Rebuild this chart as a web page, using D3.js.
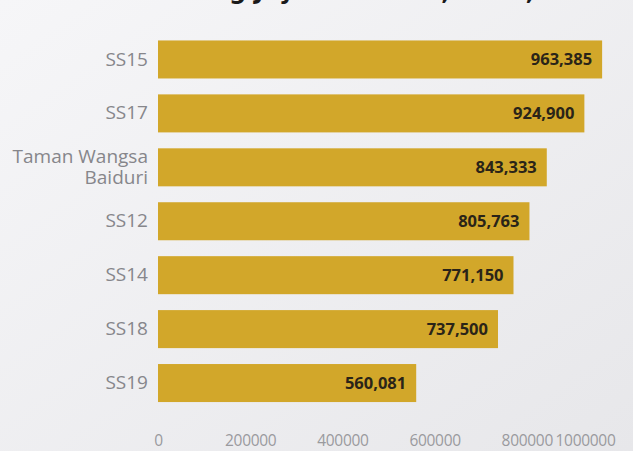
<!DOCTYPE html>
<html>
<head>
<meta charset="utf-8">
<script src="https://cdn.jsdelivr.net/npm/d3@7"></script>
<style>
  html, body { margin: 0; padding: 0; }
  body { width: 633px; height: 451px; overflow: hidden; }
  svg { display: block; }
</style>
</head>
<body>
<svg id="chart" width="633" height="451"></svg>
<script>
// Neighbourhoods and their values
const categories = ["SS15", "SS17", "Taman Wangsa Baiduri", "SS12", "SS14", "SS18", "SS19"];
const values = [963385, 924900, 843333, 805763, 771150, 737500, 560081];
const tickValues = [0, 200000, 400000, 600000, 800000, 1000000];
const titleText = "Homes in Subang Jaya: the best, 2023, RM";

const W = 633, H = 451;
const svg = d3.select("#chart");

// Background gradient
const defs = svg.append("defs");
const grad = defs.append("linearGradient").attr("id", "bg")
  .attr("x1", "0").attr("y1", "0").attr("x2", "1").attr("y2", "1");
grad.append("stop").attr("offset", "0").attr("stop-color", "#f6f6f8");
grad.append("stop").attr("offset", "1").attr("stop-color", "#e7e7ea");
svg.append("rect").attr("width", W).attr("height", H).attr("fill", "url(#bg)");

// Title, running off the top edge
svg.append("text")
  .attr("x", 10).attr("y", -1)
  .attr("font-family", "'DejaVu Sans', sans-serif")
  .attr("font-weight", 700)
  .attr("font-size", 24)
  .attr("fill", "#1a1a1a")
  .text(titleText);

const x = d3.scaleLinear().domain([0, 1000000]).range([158, 619]);
const y = d3.scaleBand().domain(categories).range([32.5, 410])
  .paddingInner(0.295).paddingOuter(0.1475);

const fmt = d3.format(",");

// Bars
svg.append("g").selectAll("rect")
  .data(categories)
  .join("rect")
  .attr("x", x(0))
  .attr("y", d => y(d))
  .attr("width", (d, i) => x(values[i]) - x(0))
  .attr("height", y.bandwidth())
  .attr("fill", "#d2a72a");

// Value labels inside the bar ends
svg.append("g").selectAll("text")
  .data(categories)
  .join("text")
  .attr("x", (d, i) => x(values[i]) - 10)
  .attr("y", d => y(d) + y.bandwidth() / 2)
  .attr("dy", "0.36em")
  .attr("text-anchor", "end")
  .attr("font-family", "'Open Sans', sans-serif")
  .attr("font-weight", 700)
  .attr("font-size", 16.5)
  .attr("fill", "#2a2418")
  .text((d, i) => fmt(values[i]));

// Category axis (labels only)
const yAxis = svg.append("g")
  .attr("transform", `translate(${x(0) - 10},0)`)
  .call(d3.axisLeft(y).tickSize(0).tickPadding(0));
yAxis.select(".domain").remove();
yAxis.selectAll(".tick text")
  .attr("font-family", "'Open Sans', sans-serif")
  .attr("font-size", 19)
  .attr("fill", "#86868b")
  .each(function(d) {
    const t = d3.select(this);
    if (d === "Taman Wangsa Baiduri") {
      t.text(null);
      t.append("tspan").attr("x", 0).attr("dy", "-0.22em").text("Taman Wangsa");
      t.append("tspan").attr("x", 0).attr("dy", "1.12em").text("Baiduri");
    }
  });

// Value axis (labels only)
const xAxis = svg.append("g")
  .attr("transform", "translate(0,435)")
  .call(d3.axisBottom(x).tickValues(tickValues).tickFormat(d3.format("d")).tickSize(0).tickPadding(0));
xAxis.select(".domain").remove();
xAxis.selectAll(".tick text")
  .attr("font-family", "'Open Sans', sans-serif")
  .attr("font-size", 15.5)
  .attr("fill", "#9a9a9e")
  .attr("letter-spacing", "-0.3")
  .attr("dy", "0.71em");
xAxis.selectAll(".tick").filter(d => d === 1000000)
  .select("text").attr("text-anchor", "end").attr("x", -4);
</script>
</body>
</html>
